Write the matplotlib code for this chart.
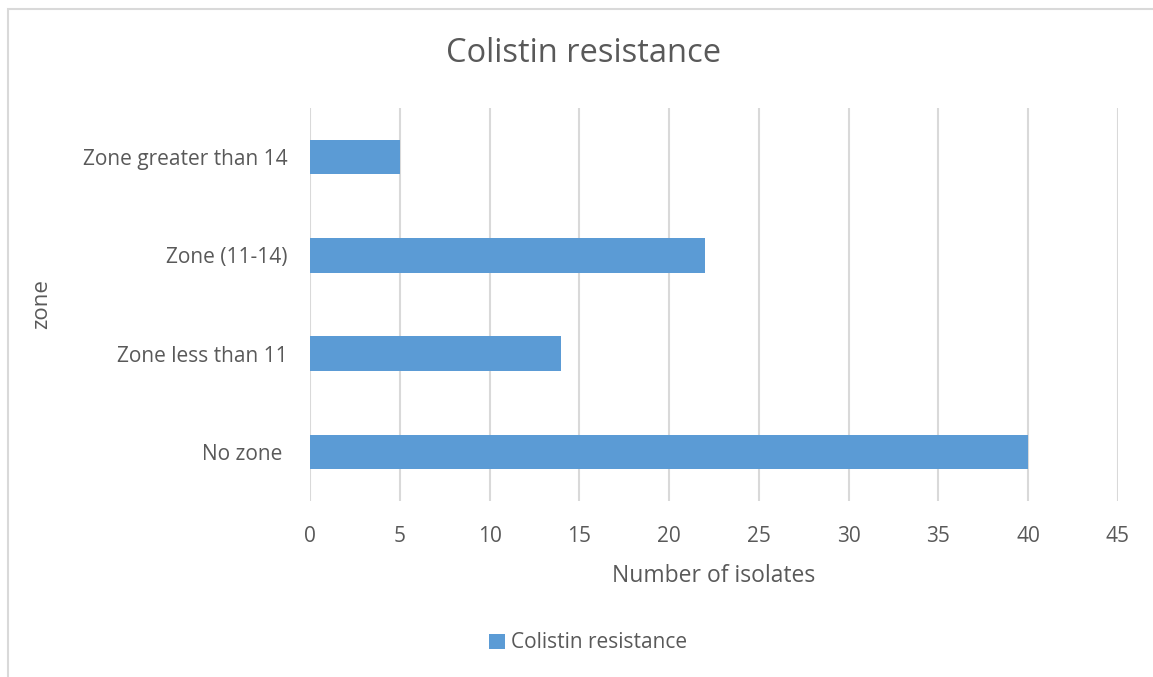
import matplotlib.pyplot as plt
from matplotlib.patches import Rectangle

# Zone sizes and isolate counts
zones = ["No zone ", "Zone less than 11", "Zone (11-14)", "Zone greater than 14"]
isolates = [40, 14, 22, 5]
ticks = [0, 5, 10, 15, 20, 25, 30, 35, 40, 45]

bar_color = "#5b9bd5"
text_color = "#595959"
grid_color = "#d9d9d9"

plt.rcParams["font.family"] = ["Open Sans", "DejaVu Sans"]

fig = plt.figure(figsize=(11.53, 6.77), dpi=100)
ax = fig.add_axes([310 / 1153, 1 - 501 / 677, 808 / 1153, 393 / 677])

# chart frame (runs off the right and bottom edges)
fig.patches.append(Rectangle((8 / 1153, -0.05), 1.2, 1 - 9 / 677 + 0.05,
                             transform=fig.transFigure, fill=False,
                             edgecolor=grid_color, linewidth=1.5))

y = range(len(zones))
ax.barh(y, isolates, height=0.35, color=bar_color, label="Colistin resistance", zorder=3)

ax.set_xlim(0, 45)
ax.set_ylim(-0.5, len(zones) - 0.5)
ax.set_xticks(ticks)
ax.set_yticks(list(y))
ax.set_yticklabels(zones)
ax.grid(axis="x", color=grid_color, linewidth=1.5, zorder=0)
for s in ax.spines.values():
    s.set_visible(False)
ax.tick_params(length=0, labelsize=15, labelcolor=text_color)
ax.tick_params(axis="x", pad=18)
ax.tick_params(axis="y", pad=16)

ax.set_xlabel("Number of isolates", fontsize=16.5, color=text_color, labelpad=12)
ax.set_ylabel("zone", fontsize=16, color=text_color, labelpad=22)
fig.text(584 / 1153, 1 - 54 / 677, "Colistin resistance", fontsize=23.5,
         color=text_color, ha="center", va="center")

fig.legend(loc="center", bbox_to_anchor=(588 / 1153, 1 - 643 / 677), frameon=False,
           fontsize=15, labelcolor=text_color, handlelength=0.75, handleheight=0.75,
           handletextpad=0.3)

fig.savefig("out.png", dpi=100)
